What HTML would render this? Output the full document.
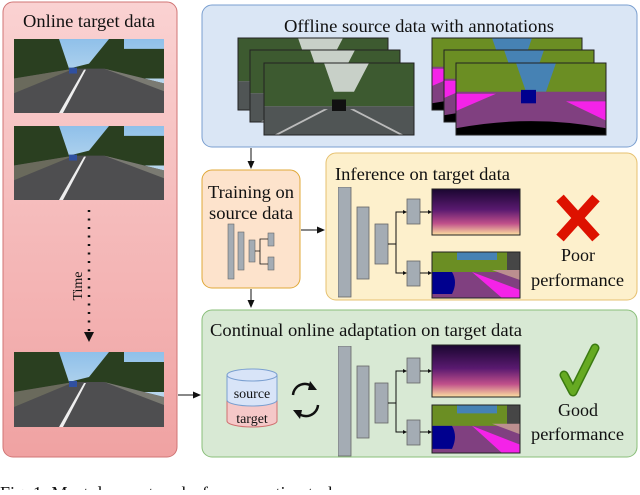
<!DOCTYPE html>
<html><head><meta charset="utf-8"><style>
body{margin:0;width:640px;height:490px;overflow:hidden;background:#fff}
svg text{font-family:"Liberation Serif",serif;fill:#111}
</style></head><body>
<svg width="640" height="490" viewBox="0 0 640 490" xmlns="http://www.w3.org/2000/svg" font-family="Liberation Serif, serif">
<defs>
<linearGradient id="pk" x1="0" y1="0" x2="0" y2="1"><stop offset="0" stop-color="#fad2d2"/><stop offset="1" stop-color="#f0a2a2"/></linearGradient>
<linearGradient id="sky" x1="0" y1="0" x2="0" y2="1"><stop offset="0" stop-color="#8fc0ea"/><stop offset="1" stop-color="#d8e8f0"/></linearGradient>
<linearGradient id="dep" x1="0" y1="0" x2="0" y2="1"><stop offset="0" stop-color="#1a0630"/><stop offset=".45" stop-color="#5a1a70"/><stop offset=".75" stop-color="#c0508a"/><stop offset="1" stop-color="#fce0a0"/></linearGradient>
<symbol id="road" viewBox="0 0 150 75" preserveAspectRatio="none">
<rect width="150" height="75" fill="url(#sky)"/>
<path d="M0 0h45l10 30 20-5 20-25h15v10h40v30H0z" fill="#2a3f20"/>
<path d="M0 40 60 30h30l60 15v30H0z" fill="#4e4e50"/>
<path d="M0 40 60 30 0 55z" fill="#6a6a5c"/>
<path d="M90 30l60 15v8z" fill="#7a7a72"/>
<path d="M70 31 45 75h4l23-44z" fill="#eee"/>
<rect x="55" y="29" width="8" height="6" fill="#3050a0"/>
</symbol>
<symbol id="city" viewBox="0 0 150 75" preserveAspectRatio="none">
<rect width="150" height="75" fill="#c8d0c8"/>
<path d="M0 0h60l10 30h20l15-30h45v45H0z" fill="#3d5a30"/>
<path d="M0 45h150v30H0z" fill="#505555"/>
<rect x="68" y="38" width="14" height="12" fill="#111"/>
<path d="M60 48 10 75h4l50-27zM90 48l50 27h-4L86 48z" fill="#bbb"/>
</symbol>
<symbol id="seg" viewBox="0 0 150 75" preserveAspectRatio="none">
<rect width="150" height="75" fill="#6b8e23"/>
<path d="M60 0h40l-10 30h-20z" fill="#4682b4"/>
<path d="M0 30h150v45H0z" fill="#804080"/>
<path d="M0 32 40 32 0 50zM110 40l40 0v20z" fill="#f423e8"/>
<rect x="65" y="28" width="15" height="14" fill="#00008e"/>
<path d="M0 68q75-15 150 0v7H0z" fill="#000"/>
</symbol>
<symbol id="seg2" viewBox="0 0 88 46" preserveAspectRatio="none">
<rect width="88" height="46" fill="#6b8e23"/>
<path d="M25 0h40v8H25z" fill="#4682b4"/>
<rect x="75" y="0" width="13" height="20" fill="#464646"/>
<path d="M0 20h88v26H0z" fill="#804080"/>
<path d="M40 20l48 18v8H70z" fill="#f423e8"/>
<path d="M60 18h28v10z" fill="#bc8f8f"/>
<path d="M0 20h20q6 10 0 22H0z" fill="#00008e"/>
</symbol>
<symbol id="net" viewBox="0 0 190 120">
<rect x="0" y="0" width="13" height="110" fill="#a4acb4" stroke="#666" stroke-width=".8"/>
<rect x="19" y="20" width="12" height="72" fill="#a4acb4" stroke="#666" stroke-width=".8"/>
<rect x="37" y="37" width="13" height="40" fill="#a4acb4" stroke="#666" stroke-width=".8"/>
<rect x="69" y="12" width="13" height="25" fill="#a4acb4" stroke="#666" stroke-width=".8"/>
<rect x="69" y="74" width="13" height="25" fill="#a4acb4" stroke="#666" stroke-width=".8"/>
<path d="M50 57h8V25h10M58 57v29h10M82 25h10M82 86h10" fill="none" stroke="#111"/>
<path d="M69 25l-4-2v4zM69 86l-4-2v4zM94 25l-4-2v4zM94 86l-4-2v4z" fill="#111"/>
</symbol>
<marker id="ar" markerWidth="8" markerHeight="8" refX="7" refY="4" orient="auto" markerUnits="userSpaceOnUse"><path d="M0 0.5 8 4 0 7.5z" fill="#111"/></marker>
</defs>

<rect x="3" y="2" width="174" height="455" rx="10" fill="url(#pk)" stroke="#d07575"/>
<text x="23" y="27" font-size="18" textLength="132" lengthAdjust="spacingAndGlyphs">Online target data</text>
<use href="#road" x="14" y="39" width="150" height="74"/>
<use href="#road" x="14" y="126" width="150" height="74"/>
<use href="#road" x="14" y="352" width="150" height="75"/>
<path d="M89 210V335" stroke="#111" stroke-width="2.5" stroke-dasharray="2 6.5"/>
<path d="M84 332h10l-5 10z" fill="#111"/>
<text transform="translate(82 286) rotate(-90)" font-size="14" text-anchor="middle">Time</text>
<line x1="178" y1="395" x2="200" y2="395" stroke="#111" marker-end="url(#ar)"/>

<rect x="202" y="5" width="435" height="142" rx="10" fill="#dae6f5" stroke="#7a9fd0"/>
<text x="284" y="32" font-size="18" textLength="270" lengthAdjust="spacingAndGlyphs">Offline source data with annotations</text>
<use href="#city" x="238" y="38" width="150" height="72"/><rect x="238" y="38" width="150" height="72" fill="none" stroke="#222"/>
<use href="#city" x="250" y="50" width="150" height="72"/><rect x="250" y="50" width="150" height="72" fill="none" stroke="#222"/>
<use href="#city" x="264" y="63" width="150" height="72"/><rect x="264" y="63" width="150" height="72" fill="none" stroke="#222"/>
<use href="#seg" x="432" y="38" width="150" height="72"/><rect x="432" y="38" width="150" height="72" fill="none" stroke="#222"/>
<use href="#seg" x="444" y="50" width="150" height="72"/><rect x="444" y="50" width="150" height="72" fill="none" stroke="#222"/>
<use href="#seg" x="456" y="63" width="150" height="72"/><rect x="456" y="63" width="150" height="72" fill="none" stroke="#222"/>
<line x1="251" y1="148" x2="251" y2="168" stroke="#111" marker-end="url(#ar)"/>

<rect x="202" y="170" width="98" height="118" rx="10" fill="#fde3cc" stroke="#e0a838"/>
<text x="208" y="198" font-size="18" textLength="86" lengthAdjust="spacingAndGlyphs">Training on</text>
<text x="209" y="219" font-size="18" textLength="84" lengthAdjust="spacingAndGlyphs">source data</text>
<rect x="228" y="224" width="6" height="55" fill="#a4acb4" stroke="#666" stroke-width=".6"/>
<rect x="238" y="232" width="6" height="38" fill="#a4acb4" stroke="#666" stroke-width=".6"/>
<rect x="249" y="240" width="6" height="22" fill="#a4acb4" stroke="#666" stroke-width=".6"/>
<rect x="268" y="233" width="6" height="13" fill="#a4acb4" stroke="#666" stroke-width=".6"/>
<rect x="268" y="257" width="6" height="13" fill="#a4acb4" stroke="#666" stroke-width=".6"/>
<path d="M255 251h5v-12h8M260 251v13h8" fill="none" stroke="#111" stroke-width=".8"/>
<line x1="251" y1="289" x2="251" y2="307" stroke="#111" marker-end="url(#ar)"/>
<line x1="301" y1="230" x2="324" y2="230" stroke="#111" marker-end="url(#ar)"/>

<rect x="326" y="153" width="311" height="147" rx="10" fill="#fdf0cc" stroke="#e6c170"/>
<text x="335" y="180" font-size="18" textLength="175" lengthAdjust="spacingAndGlyphs">Inference on target data</text>
<use href="#net" x="338" y="187" width="190" height="120"/>
<rect x="432" y="189" width="88" height="46" fill="url(#dep)" stroke="#222"/>
<use href="#seg2" x="432" y="252" width="88" height="46"/><rect x="432" y="252" width="88" height="46" fill="none" stroke="#222"/>
<path d="M560 198l36 40M596 198l-36 40" stroke="#dd1100" stroke-width="10"/>
<text x="578" y="261" font-size="18" text-anchor="middle">Poor</text>
<text x="531" y="286" font-size="18" textLength="93" lengthAdjust="spacingAndGlyphs">performance</text>

<rect x="202" y="310" width="435" height="147" rx="10" fill="#d8e9d4" stroke="#8abf7a"/>
<text x="210" y="336" font-size="18" textLength="312" lengthAdjust="spacingAndGlyphs">Continual online adaptation on target data</text>
<path d="M227 375v46a25 6 0 0 0 50 0v-46" fill="#f5c8c8" stroke="#d07070"/>
<path d="M227 375v25a25 6 0 0 0 50 0v-25" fill="#d8e4f8" stroke="#7a9fd0"/>
<ellipse cx="252" cy="375" rx="25" ry="6" fill="#d8e4f8" stroke="#7a9fd0"/>
<text x="252" y="398" font-size="14" text-anchor="middle">source</text>
<text x="252" y="423" font-size="14" text-anchor="middle">target</text>
<path d="M293 395a12 12 0 0 1 20-8M318 405a12 12 0 0 1-20 8" fill="none" stroke="#111" stroke-width="2.5"/>
<path d="M310 381l7 9-9 0zM300 419l-7-9 9 0z" fill="#111"/>
<use href="#net" x="338" y="346" width="190" height="120"/>
<rect x="432" y="345" width="88" height="52" fill="url(#dep)" stroke="#222"/>
<use href="#seg2" x="432" y="405" width="88" height="48"/><rect x="432" y="405" width="88" height="48" fill="none" stroke="#222"/>
<path d="M564 375l9 17 22-44" fill="none" stroke="#3a7a10" stroke-width="9" stroke-linecap="round" stroke-linejoin="round"/>
<path d="M564 375l9 17 22-44" fill="none" stroke="#66aa22" stroke-width="6" stroke-linecap="round" stroke-linejoin="round"/>
<text x="578" y="416" font-size="18" text-anchor="middle">Good</text>
<text x="531" y="440" font-size="18" textLength="93" lengthAdjust="spacingAndGlyphs">performance</text>
<text x="0" y="499" font-size="18">Fig. 1:  Most deep networks for perception tasks are</text>
</svg>
</body></html>
